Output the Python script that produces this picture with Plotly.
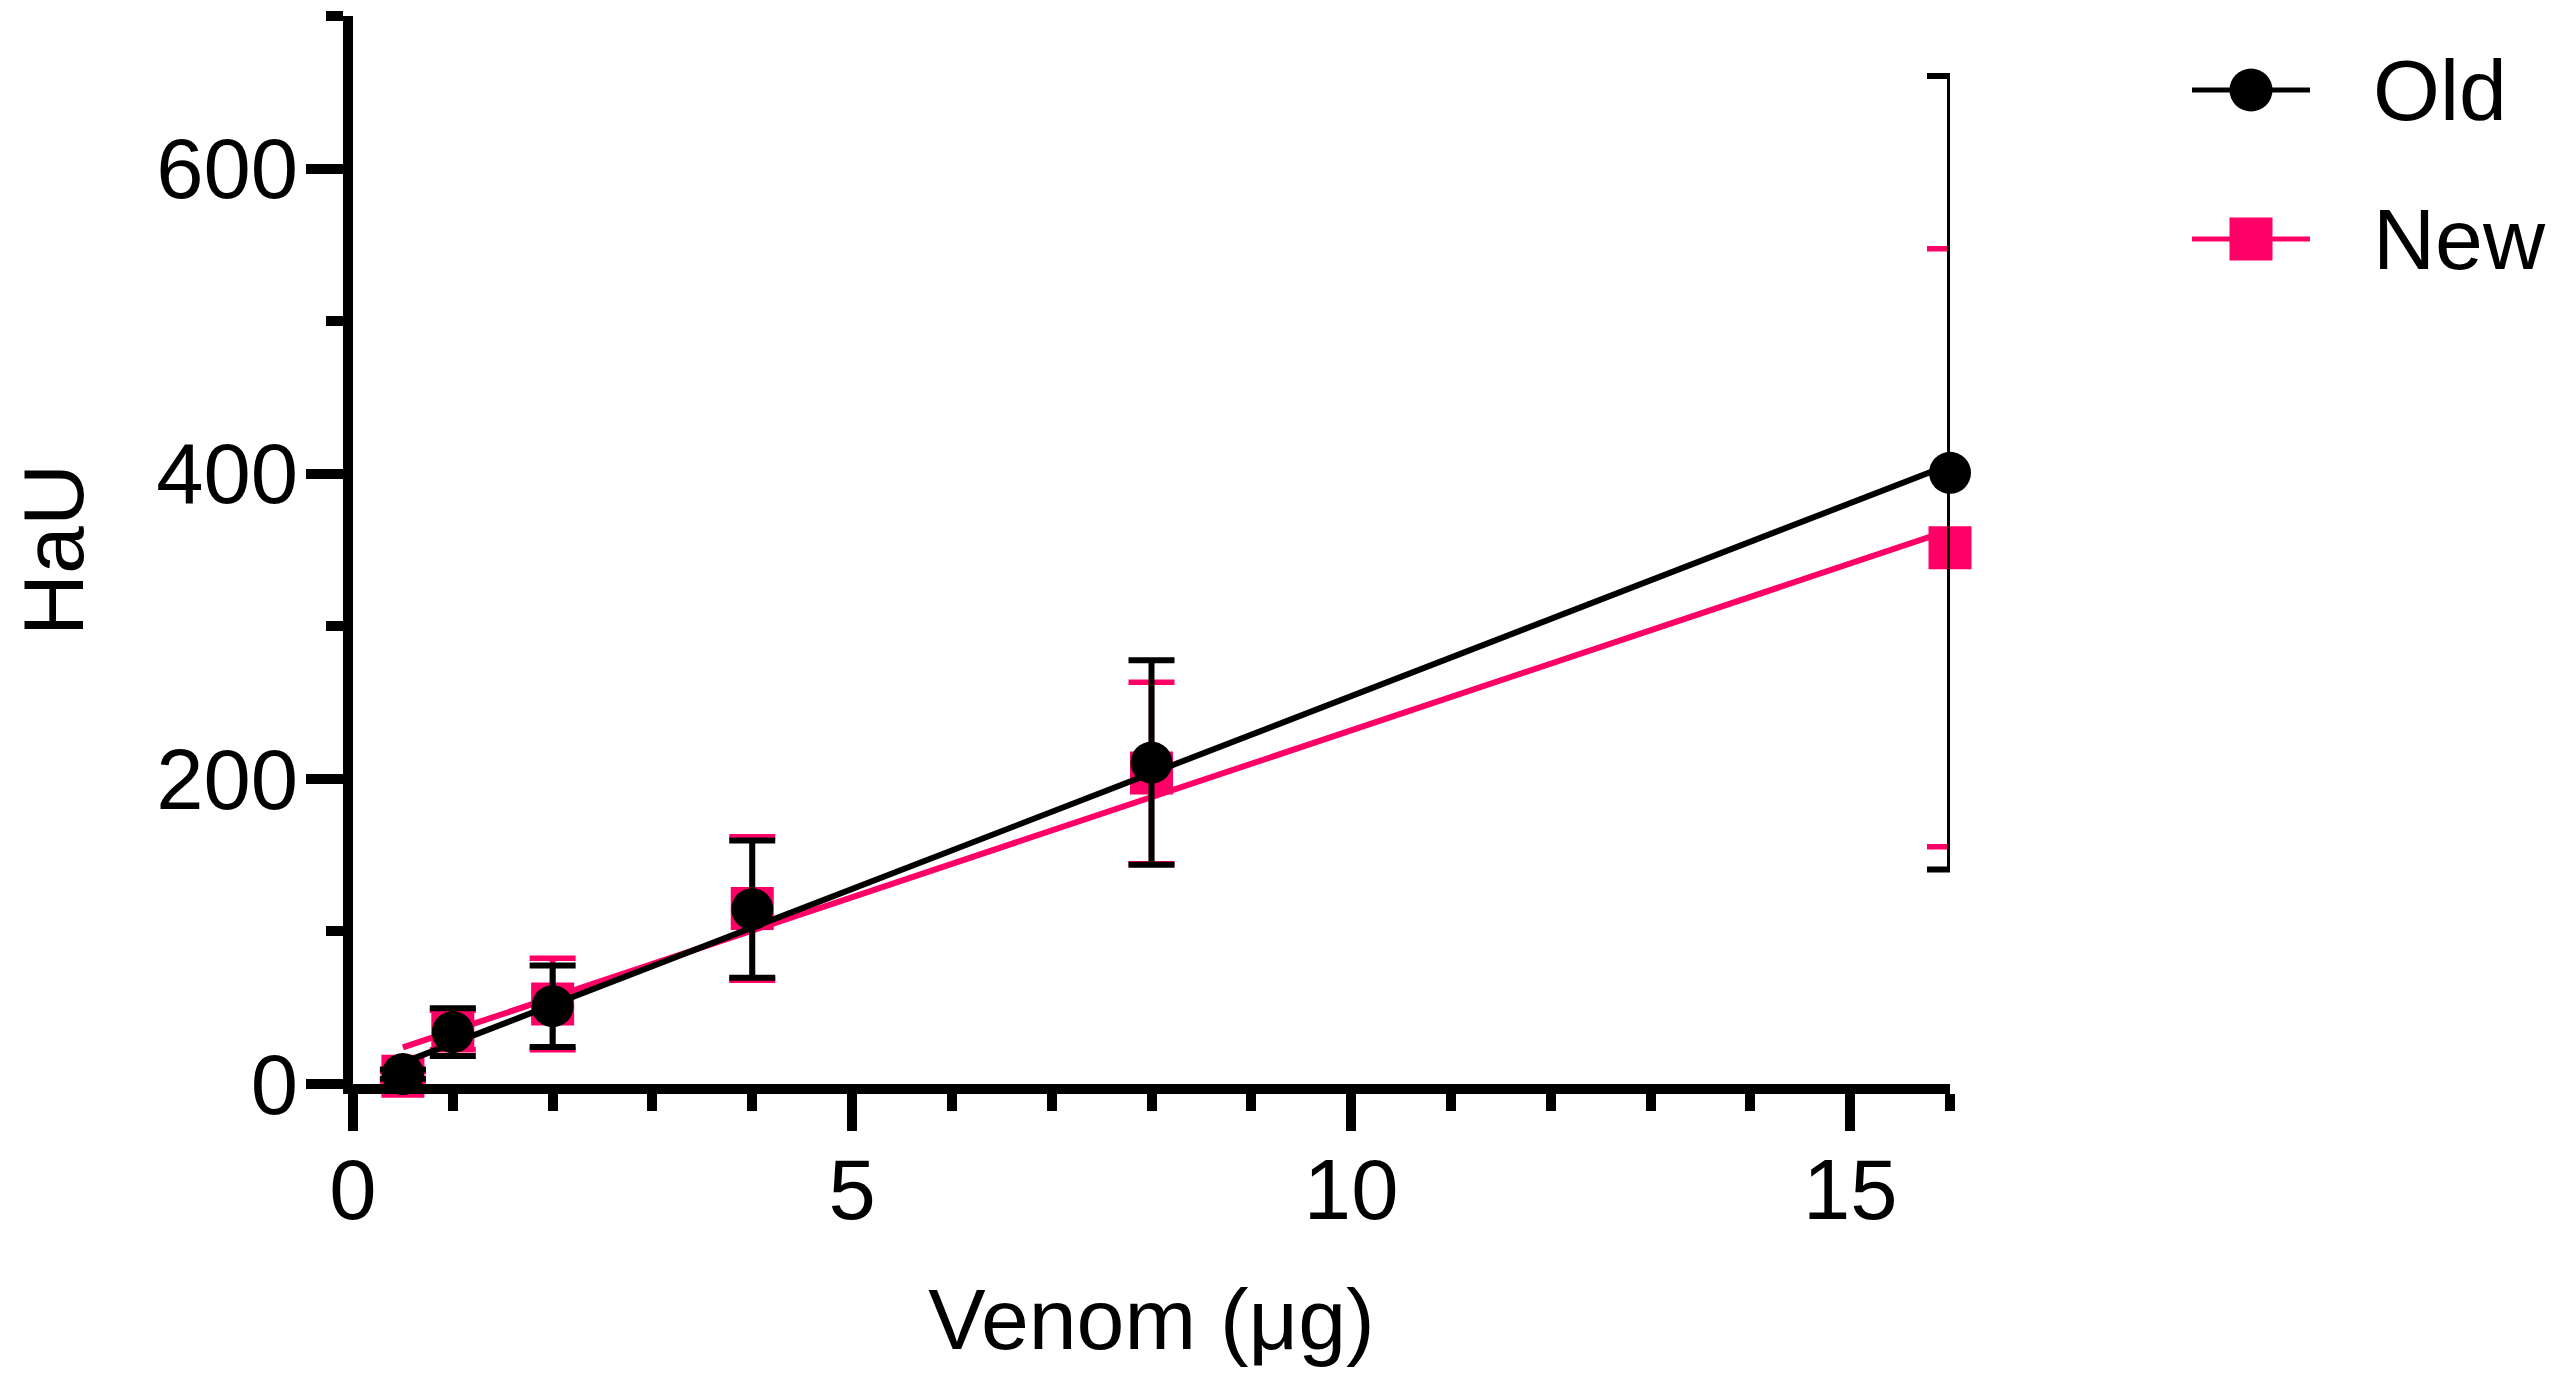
import plotly.graph_objects as go

# Venom dose (µg) und Mittelwerte / SD
dose = [0.5, 1, 2, 4, 8, 16]
old_mean = [6.5, 34, 51, 114.6, 210.7, 400.6]
old_sd = [3, 15.7, 26.7, 45, 67, 260]
new_mean = [5, 35.4, 52.4, 115, 203.9, 351.5]
new_sd = [3, 13, 30, 47, 59.5, 196]

fit_x = [0.5, 16]
old_fit = [14, 406]
new_fit = [24, 363]

PINK = '#ff0066'
FONT = 'Liberation Sans, Arial, sans-serif'

# body hat 8px Rand -> Figur etwas kleiner als das Fenster
OFF = 8
W, H = 2559 - 2 * OFF, 1384 - 2 * OFF
L, T, B = 345, 8, 292
pw = 1597
R = W - L - pw
ph = H - T - B


def px(x):
    # Seitenpixel -> paper-Koordinate
    return (x - OFF - L) / pw


def py(y):
    return (H - B - (y - OFF)) / ph


fig = go.Figure()

fig.add_trace(go.Scatter(x=fit_x, y=new_fit, mode='lines', line=dict(color=PINK, width=6),
                         showlegend=False, hoverinfo='skip'))
fig.add_trace(go.Scatter(x=dose, y=new_mean, mode='markers', name='New', cliponaxis=False,
                         marker=dict(symbol='square', size=43, color=PINK),
                         error_y=dict(type='data', array=new_sd, color=PINK, thickness=5.5, width=23),
                         showlegend=False))
fig.add_trace(go.Scatter(x=fit_x, y=old_fit, mode='lines', line=dict(color='black', width=6),
                         showlegend=False, hoverinfo='skip'))
fig.add_trace(go.Scatter(x=dose, y=old_mean, mode='markers', name='Old', cliponaxis=False,
                         marker=dict(symbol='circle', size=42, color='black'),
                         error_y=dict(type='data', array=old_sd, color='black', thickness=6, width=23),
                         showlegend=False))

axis_common = dict(showgrid=False, zeroline=False, showline=True, linecolor='black', linewidth=10,
                   ticks='outside', tickwidth=10, tickcolor='black', ticklen=37, automargin=False,
                   tickfont=dict(family=FONT, size=85, color='black'))

fig.update_xaxes(range=[0, 16], tick0=0, dtick=5, ticklabelstandoff=-14,
                 minor=dict(dtick=1, ticks='outside', ticklen=17, tickwidth=10, tickcolor='black', showgrid=False),
                 title=dict(text='Venom (μg)', font=dict(family=FONT, size=86, color='black'), standoff=57),
                 **axis_common)
fig.update_yaxes(range=[0, 700], tick0=0, dtick=200, ticklabelstandoff=-9,
                 minor=dict(dtick=100, ticks='outside', ticklen=17, tickwidth=10, tickcolor='black', showgrid=False),
                 **axis_common)

# y-Titel als Annotation (Axentitel wird sonst an den Rand geklemmt)
fig.add_annotation(text='HaU', textangle=-90, x=px(53), y=0.5, xref='paper', yref='paper',
                   xanchor='center', yanchor='middle', showarrow=False,
                   font=dict(family=FONT, size=86, color='black'))

# Legende von Hand (Symbole in Originalgröße)
legend_rows = [('Old', 90, 'circle', 'black'), ('New', 239, 'rect', PINK)]
for label, yy, shape, col in legend_rows:
    fig.add_shape(type='line', xref='paper', yref='paper', x0=px(2192), x1=px(2310), y0=py(yy), y1=py(yy),
                  line=dict(color=col, width=5))
    fig.add_shape(type=shape, xref='paper', yref='paper', xsizemode='pixel', ysizemode='pixel',
                  xanchor=px(2251), yanchor=py(yy), x0=-21.5, x1=21.5, y0=-21.5, y1=21.5,
                  fillcolor=col, line=dict(width=0))
    fig.add_annotation(text=label, x=px(2371), y=py(yy), xref='paper', yref='paper', xanchor='left',
                       yanchor='middle', showarrow=False, font=dict(family=FONT, size=86, color='black'))

fig.update_layout(width=W, height=H, margin=dict(l=L, r=R, t=T, b=B, autoexpand=False),
                  plot_bgcolor='white', paper_bgcolor='white', showlegend=False,
                  font=dict(family=FONT, color='black'))

fig.write_html("out.html")
